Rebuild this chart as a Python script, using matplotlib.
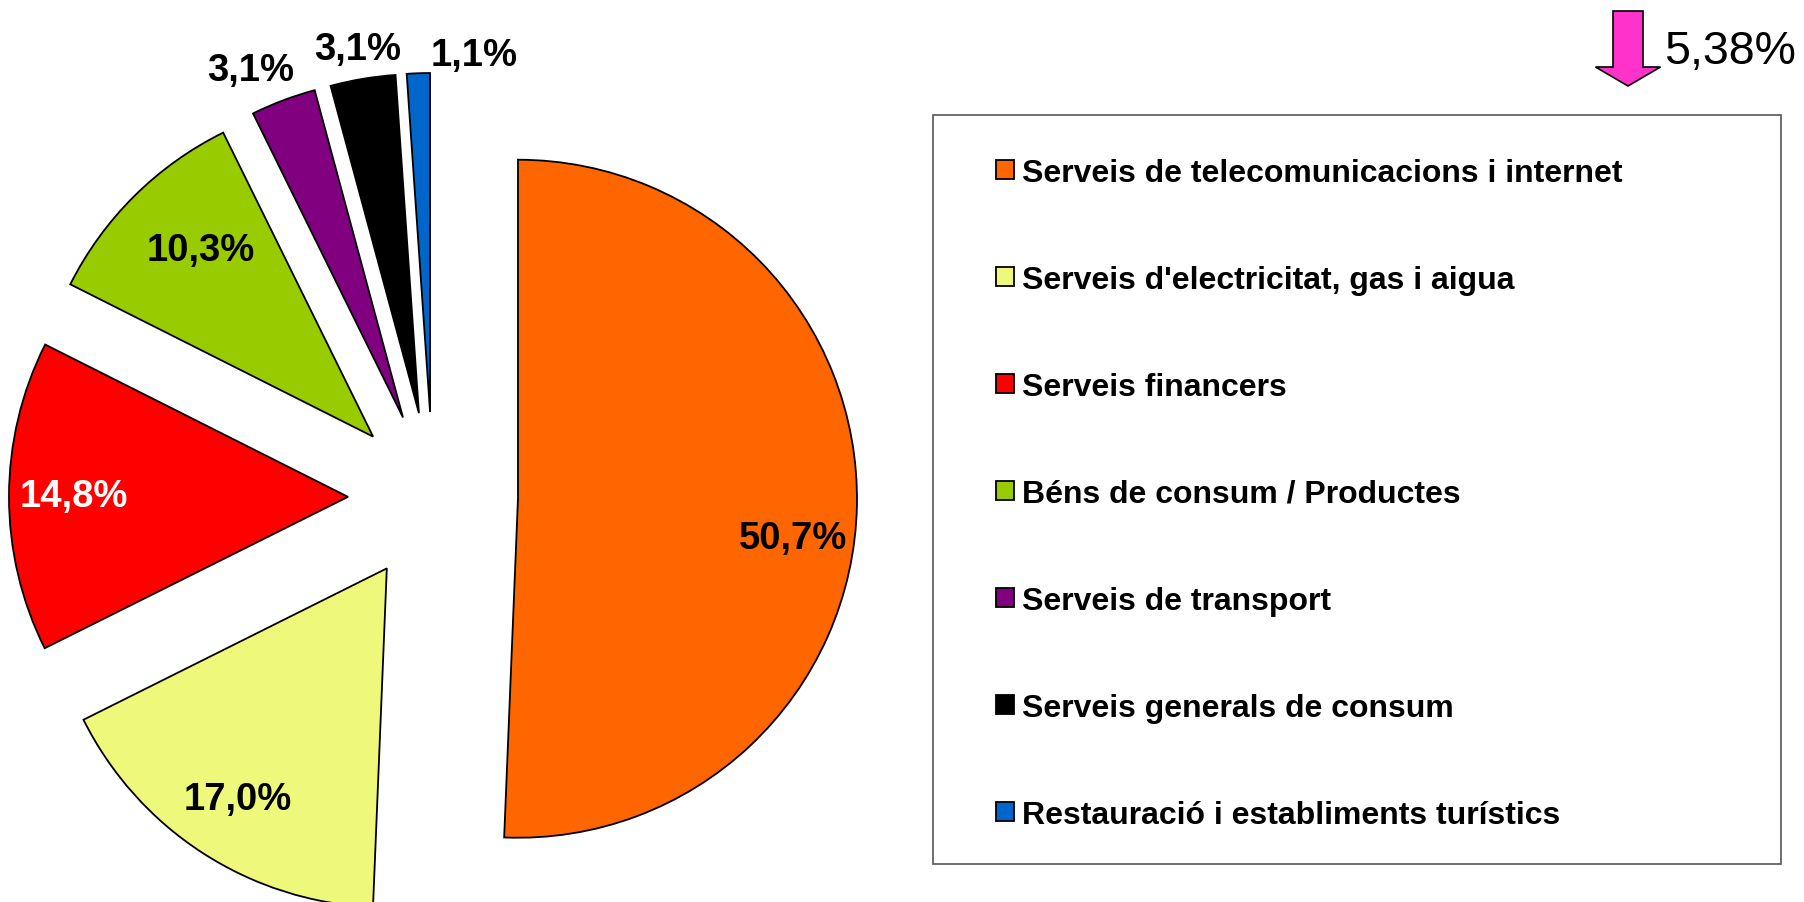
import numpy as np
import matplotlib
matplotlib.use("Agg")
import matplotlib.pyplot as plt
from matplotlib.patches import Rectangle, FancyArrow

plt.rcParams["font.family"] = ["Liberation Sans", "DejaVu Sans"]

# data
categories = [
    "Serveis de telecomunicacions i internet",
    "Serveis d'electricitat, gas i aigua",
    "Serveis financers",
    "Béns de consum / Productes",
    "Serveis de transport",
    "Serveis generals de consum",
    "Restauració i establiments turístics",
]
shares = [50.7, 17.0, 14.8, 10.3, 3.1, 3.1, 1.1]
colors = ["#FF6600", "#EEF87A", "#FF0000", "#99CC00", "#800080", "#000000", "#0066CC"]
label_colors = ["black", "black", "white", "black", "black", "black", "black"]
change_text = "5,38%"

# label placement (fraction of radius, angle nudge in degrees)
label_dist = [0.82, 0.81, 0.81, 0.75, 1.12, 1.09, 1.06]
label_nudge = [-7, 0, 0, -2, 3, 0, -9]

W, H = 1804, 903
fig = plt.figure(figsize=(W / 100, H / 100), dpi=100)
ax = fig.add_axes([0, 0, 1, 1])

radius = 339
wedges, _ = ax.pie(
    shares, colors=colors, startangle=90, counterclock=False,
    center=(433, H - 498), radius=radius, explode=[85] * len(shares),
    wedgeprops=dict(edgecolor="black", linewidth=1.3), frame=True,
)
ax.set_xlim(0, W)
ax.set_ylim(0, H)
ax.axis("off")

for w, val, d, nud, c in zip(wedges, shares, label_dist, label_nudge, label_colors):
    ang = np.deg2rad(0.5 * (w.theta1 + w.theta2) + nud)
    cx, cy = w.center
    ax.text(cx + d * radius * np.cos(ang), cy + d * radius * np.sin(ang),
            f"{val:.1f}%".replace(".", ","), ha="center", va="center",
            fontsize=27.5, fontweight="bold", color=c)

# legend with an Excel-style oversized frame
ax.add_patch(Rectangle((933, H - 865), 848, 749, facecolor="white",
                       edgecolor="#555555", linewidth=1.2, zorder=1))
leg = ax.legend(wedges, categories, loc="upper left",
                bbox_to_anchor=(980 / W, (H - 143) / H), frameon=False,
                prop=dict(size=23, weight="bold"),
                handlelength=0.55, handleheight=0.55, handletextpad=0.25,
                labelspacing=2.41, borderpad=0)
leg.set_zorder(2)

# change indicator
ax.add_patch(FancyArrow(1628, H - 12, 0, -75, width=30, head_width=65,
                        head_length=19, length_includes_head=True,
                        facecolor="#FF33CC", edgecolor="black", linewidth=1.2))
ax.text(1664, H - 52, change_text, ha="left", va="center", fontsize=33.5)

fig.savefig("out.png", dpi=100)
